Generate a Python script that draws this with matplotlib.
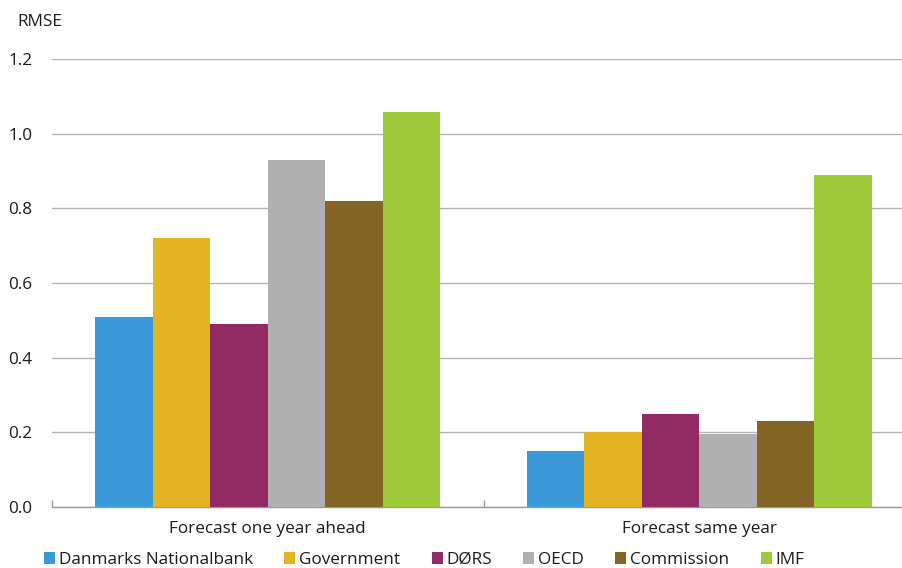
import matplotlib
matplotlib.use("Agg")
import matplotlib.pyplot as plt
from matplotlib.patches import Patch
import numpy as np

categories = ["Forecast one year ahead", "Forecast same year"]
series = ["Danmarks Nationalbank", "Government", "DØRS", "OECD", "Commission", "IMF"]
values = {
    "Danmarks Nationalbank": [0.51, 0.15],
    "Government": [0.72, 0.20],
    "DØRS": [0.49, 0.25],
    "OECD": [0.93, 0.195],
    "Commission": [0.82, 0.23],
    "IMF": [1.058, 0.889],
}
colors = ["#3a9ad9", "#e2b322", "#922b63", "#b0b0b0", "#836425", "#9ec93b"]
yticks = [0.0, 0.2, 0.4, 0.6, 0.8, 1.0, 1.2]

plt.rcParams['font.family'] = ['Open Sans', 'DejaVu Sans']
FS = 12.3

W, H = 903, 568
fig = plt.figure(figsize=(W/100, H/100), dpi=100)
ax = fig.add_axes([52/W, 1-507/H, (903-52)/W, (507-59)/H])

n = len(series)
group_w = 0.8
bw = group_w / n
x = np.arange(len(categories))
for i, s in enumerate(series):
    ax.bar(x - group_w/2 + bw*(i+0.5), values[s], width=bw, color=colors[i], zorder=3)

ax.set_yticks(yticks)
ax.set_yticklabels([f"{v:.1f}" for v in yticks], fontsize=FS, color="#1a1a1a")
ax.tick_params(axis='y', length=0, pad=14)
ax.yaxis.grid(True, color="#b4b4b4", linewidth=1.0, zorder=0)
ax.set_axisbelow(True)

ax.set_xticks([-0.5, 0.5, 1.5])
ax.set_xticklabels([])
ax.set_xticks(x, minor=True)
ax.set_xticklabels(categories, minor=True, fontsize=FS, color="#1a1a1a")
ax.tick_params(axis='x', which='major', direction='in', length=5, color="#999999", width=1)
ax.tick_params(axis='x', which='minor', length=0, pad=10)

ax.set_ylim(0, 1.2)
ax.set_xlim(-0.5, -0.5 + (903-52)/431.6)

for sp in ['top', 'right', 'left']:
    ax.spines[sp].set_visible(False)
ax.spines['bottom'].set_color("#999999")
ax.spines['bottom'].set_linewidth(1.0)

fig.text(17/W, 1-22/H, "RMSE", fontsize=FS, color="#1a1a1a", va='center', ha='left')

handles = [Patch(facecolor=c, edgecolor='none') for c in colors]
leg = fig.legend(handles, series, loc='center left', bbox_to_anchor=(44/W, 1-560/H),
                 ncol=6, frameon=False, fontsize=FS, handlelength=0.65, handleheight=0.65,
                 handletextpad=0.2, columnspacing=1.85, borderaxespad=0, borderpad=0)
for t in leg.get_texts():
    t.set_color("#1a1a1a")

fig.savefig("out.png", dpi=100)
